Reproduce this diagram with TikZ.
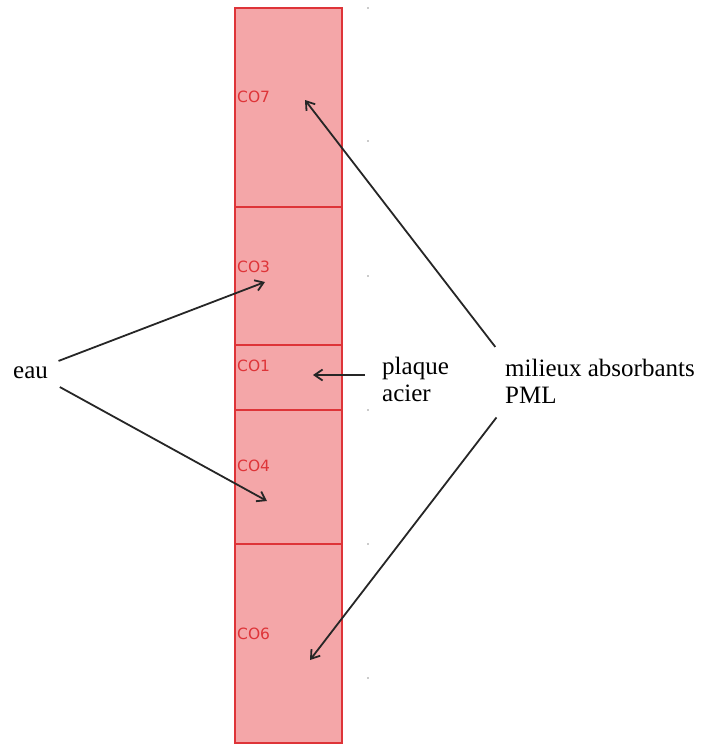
\documentclass[tikz,border=0pt]{standalone}
\usepackage{fontspec}
\setmainfont{Liberation Serif}
\newfontfamily\guifont{DejaVu Sans}
\usetikzlibrary{arrows.meta, positioning}
\definecolor{pmlpink}{RGB}{244, 166, 168}
\definecolor{pmlred}{RGB}{222, 52, 56}
\definecolor{gridgray}{RGB}{150, 150, 150}

\begin{document}
\begin{tikzpicture}[
  x=1pt, y=-1pt,
  layer/.style={rectangle, draw=pmlred, fill=pmlpink, line width=1.3pt, minimum width=107pt, inner sep=0pt, outer sep=0pt},
  lbl/.style={anchor=west, text=pmlred, font=\guifont\fontsize{15.5}{17}\selectfont, inner sep=0pt},
  txt/.style={align=left, font=\fontsize{25}{27}\selectfont, inner sep=3pt},
  arr/.style={-{Straight Barb[length=8pt, width=11pt]}, line width=1.8pt, draw=black!85}
]
  \useasboundingbox (0,0) rectangle (704,745);

  % the five layers of the column
  \node[layer, minimum height=199pt, anchor=north west] (co7) at (235,8) {};
  \node[layer, minimum height=138pt, below=0pt of co7] (co3) {};
  \node[layer, minimum height=65pt, below=0pt of co3] (co1) {};
  \node[layer, minimum height=134pt, below=0pt of co1] (co4) {};
  \node[layer, minimum height=199pt, below=0pt of co4] (co6) {};

  \node[lbl] (lco7) at (237,97) {CO7};
  \node[lbl] (lco3) at (237,267) {CO3};
  \node[lbl] (lco1) at (237,366) {CO1};
  \node[lbl] (lco4) at (237,466) {CO4};
  \node[lbl] (lco6) at (237,634) {CO6};

  % mesh points
  \foreach \yy in {8,141,276,410,544,678}
    \fill[gridgray] (368,\yy) circle (0.8pt);

  % labels
  \node[txt, anchor=west] (eau) at (10,373) {eau};
  \node[txt, anchor=west] (plaque) at (379,379) {plaque\\acier};
  \node[txt, anchor=west] (milieux) at (502,381) {milieux absorbants\\PML};

  \coordinate (tco3) at (265,282);
  \coordinate (tco4) at (267,501);
  \coordinate (tco1) at (313,375);
  \coordinate (tco7) at (305,100);
  \coordinate (tco6) at (310,660);

  \draw[arr, shorten <=8pt] (eau.north east) -- (tco3);
  \draw[arr, shorten <=10pt] (eau.south east) -- (tco4);
  \draw[arr, shorten <=14pt] ([yshift=4pt]plaque.west) -- (tco1);
  \draw[arr, shorten <=11pt] (milieux.north west) -- (tco7);
  \draw[arr, shorten <=14pt] ([xshift=3pt]milieux.south west) -- (tco6);

\end{tikzpicture}
\end{document}
